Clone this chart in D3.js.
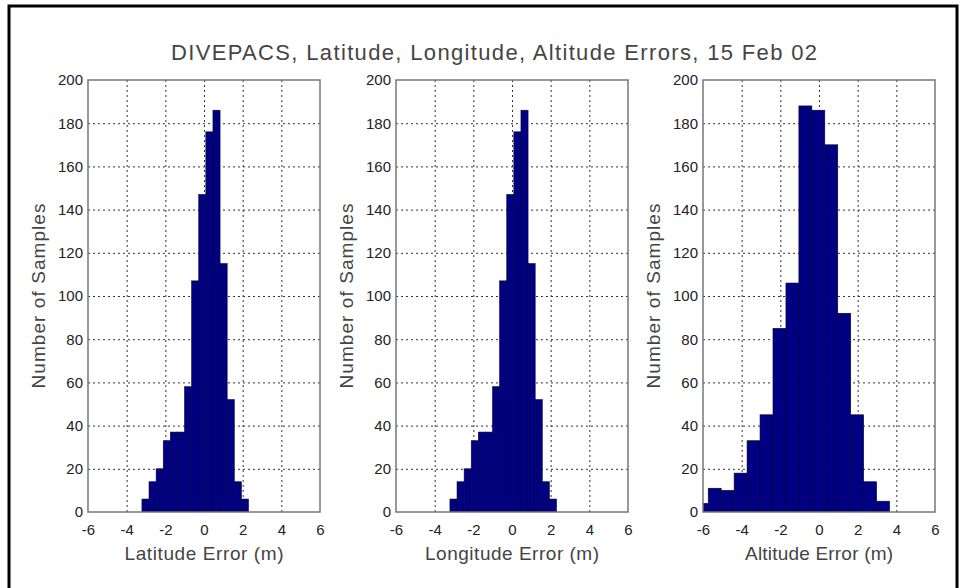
<!DOCTYPE html>
<html>
<head>
<meta charset="utf-8">
<script src="https://cdn.jsdelivr.net/npm/d3@7"></script>
<style>
  body { margin: 0; background: #fff; }
  svg { display: block; }
  text { font-family: "Liberation Sans", Arial, sans-serif; fill: #222; }
</style>
</head>
<body>
<div id="chart"></div>
<script>
// histogram counts, 15 bins each
const latCounts = [6, 14, 20, 33, 37, 37, 58, 107, 147, 176, 186, 115, 52, 14, 6];
const latRange = [-3.21, 2.30];
const lonCounts = [6, 14, 20, 33, 37, 37, 58, 107, 147, 176, 186, 115, 52, 14, 6];
const lonRange = [-3.21, 2.30];
const altCounts = [4, 11, 10, 18, 33, 45, 85, 106, 188, 186, 170, 92, 45, 14, 5];
const altRange = [-6.40, 3.65];

const xTicks = [-6, -4, -2, 0, 2, 4, 6];
const yTicks = [0, 20, 40, 60, 80, 100, 120, 140, 160, 180, 200];
const xLabels = ['Latitude Error (m)', 'Longitude Error (m)', 'Altitude Error (m)'];
const yLabel = 'Number of Samples';
const title = 'DIVEPACS, Latitude, Longitude, Altitude Errors, 15 Feb 02';

const width = 963;
const height = 588;

const panelLeft = [88, 396, 703];
const plotTop = 80;
const pw = 232;
const ph = 432;

const svg = d3.select('#chart')
  .append('svg')
  .attr('width', width)
  .attr('height', height);

// outer frame (top, left, right)
svg.append('path')
  .attr('d', `M9,${height} V6 H957 V${height}`)
  .attr('fill', 'none')
  .attr('stroke', '#000')
  .attr('stroke-width', 3);

svg.append('text')
  .attr('x', 171)
  .attr('y', 60)
  .attr('textLength', 646)
  .style('font-size', '22px')
  .style('fill', '#444')
  .text(title);

const panels = [
  { counts: latCounts, range: latRange },
  { counts: lonCounts, range: lonRange },
  { counts: altCounts, range: altRange }
];

panels.forEach((p, i) => {
  const left = panelLeft[i];
  const x = d3.scaleLinear().domain([-6, 6]).range([left, left + pw]);
  const y = d3.scaleLinear().domain([0, 200]).range([plotTop + ph, plotTop]);

  const g = svg.append('g');

  svg.append('clipPath')
    .attr('id', 'clip' + i)
    .append('rect')
    .attr('x', left).attr('y', plotTop)
    .attr('width', pw).attr('height', ph);

  // dotted grid
  g.append('g')
    .attr('transform', `translate(0,${plotTop + ph})`)
    .call(d3.axisBottom(x).tickValues(xTicks.slice(1, -1)).tickSize(-ph).tickFormat(''))
    .call(a => a.select('.domain').remove())
    .selectAll('line')
    .attr('stroke', '#333')
    .attr('stroke-dasharray', '2,3');

  g.append('g')
    .attr('transform', `translate(${left},0)`)
    .call(d3.axisLeft(y).tickValues(yTicks.slice(1, -1)).tickSize(-pw).tickFormat(''))
    .call(a => a.select('.domain').remove())
    .selectAll('line')
    .attr('stroke', '#333')
    .attr('stroke-dasharray', '2,3');

  // bars
  const bw = (p.range[1] - p.range[0]) / p.counts.length;
  const bins = p.counts.map((c, k) => ({ x0: p.range[0] + k * bw, x1: p.range[0] + (k + 1) * bw, n: c }));

  g.append('g')
    .attr('clip-path', `url(#clip${i})`)
    .selectAll('rect')
    .data(bins)
    .enter().append('rect')
      .attr('x', d => x(d.x0))
      .attr('y', d => y(d.n))
      .attr('width', d => x(d.x1) - x(d.x0))
      .attr('height', d => y(0) - y(d.n))
      .attr('fill', '#000080')
      .attr('stroke', '#00003a')
      .attr('stroke-width', 0.6);

  // box
  g.append('rect')
    .attr('x', left).attr('y', plotTop)
    .attr('width', pw).attr('height', ph)
    .attr('fill', 'none')
    .attr('stroke', '#777')
    .attr('stroke-width', 1.5);

  // tick labels (plain hyphen minus like the original)
  const xa = g.append('g')
    .attr('transform', `translate(0,${plotTop + ph})`)
    .call(d3.axisBottom(x).tickValues(xTicks).tickSize(0).tickPadding(12).tickFormat(d => String(d)));
  xa.select('.domain').remove();
  xa.selectAll('text').style('font-size', '15px').style('font-family', null).attr('fill', '#333');

  const ya = g.append('g')
    .attr('transform', `translate(${left},0)`)
    .call(d3.axisLeft(y).tickValues(yTicks).tickSize(0).tickPadding(5));
  ya.select('.domain').remove();
  ya.selectAll('text').style('font-size', '15px').style('font-family', null).attr('fill', '#333');

  g.append('text')
    .attr('x', left + pw / 2)
    .attr('y', 560)
    .attr('text-anchor', 'middle')
    .attr('textLength', [159, 174, 148][i])
    .style('font-size', '19px')
    .style('fill', '#444')
    .text(xLabels[i]);

  g.append('text')
    .attr('transform', `translate(${left - 43},${plotTop + ph / 2}) rotate(-90)`)
    .attr('text-anchor', 'middle')
    .attr('textLength', 185)
    .style('font-size', '19px')
    .style('fill', '#444')
    .text(yLabel);
});
</script>
</body>
</html>
